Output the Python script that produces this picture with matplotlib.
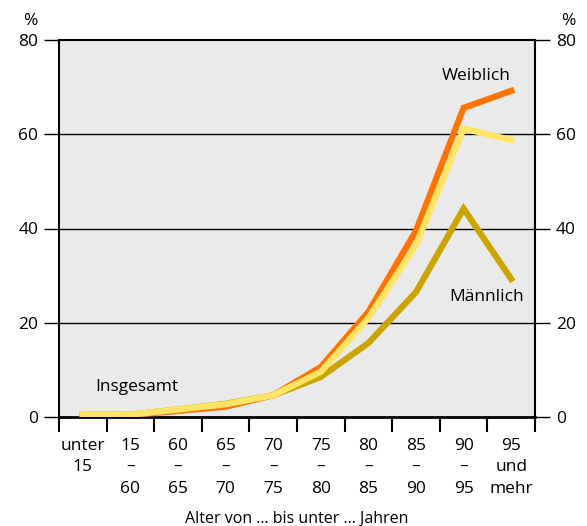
import numpy as np
import matplotlib
matplotlib.use("Agg")
import matplotlib.pyplot as plt

# age groups and shares in percent
age_groups = ["unter\n15", "15\n–\n60", "60\n–\n65", "65\n–\n70", "70\n–\n75",
              "75\n–\n80", "80\n–\n85", "85\n–\n90", "90\n–\n95", "95\nund\nmehr"]
insgesamt = [0.6, 0.5, 1.6, 2.7, 4.6, 9.6, 21.0, 36.5, 61.2, 58.8]
weiblich = [0.6, 0.4, 1.3, 2.2, 4.6, 10.6, 22.3, 39.5, 65.6, 69.2]
maennlich = [0.6, 0.5, 1.6, 2.8, 4.6, 8.5, 15.7, 26.5, 44.2, 29.3]
y_ticks = [0, 20, 40, 60, 80]

plt.rcParams['font.family'] = ['Open Sans', 'DejaVu Sans']
plt.rcParams['font.size'] = 12

fig = plt.figure(figsize=(5.87, 5.26), dpi=100)
ax = fig.add_axes([59/587, 109/526, 476/587, 377/526])
ax.set_facecolor('#EAEAEA')

x = np.arange(len(age_groups))
lw = 4.5
ax.plot(x, maennlich, color='#CCA500', lw=lw, solid_joinstyle='miter', zorder=3)
ax.plot(x, weiblich, color='#FF7300', lw=lw, solid_joinstyle='miter', zorder=4)
ax.plot(x, insgesamt, color='#FFE466', lw=lw, solid_joinstyle='miter', zorder=5)

ax.set_xlim(-0.5, len(age_groups) - 0.5)
ax.set_ylim(0, 80)

# horizontal rules at the tick values
for v in y_ticks[1:-1]:
    ax.axhline(v, color='black', lw=1.0, zorder=2)

ax.set_yticks(y_ticks)
ax.tick_params(axis='y', direction='out', length=11, width=1.0, pad=4,
               left=True, right=True, labelleft=True, labelright=True,
               labelsize=12.5)

ax.set_xticks(x)
ax.set_xticklabels(age_groups, linespacing=1.45)
ax.set_xticks(np.arange(-0.5, len(age_groups)), minor=True)
ax.tick_params(axis='x', which='major', length=0, pad=15, labelsize=12.5)
ax.tick_params(axis='x', which='minor', direction='out', length=11, width=1.5)

for side in ['left', 'right', 'top']:
    ax.spines[side].set_linewidth(1.5)
ax.spines['bottom'].set_linewidth(2)

ax.set_xlabel("Alter von ... bis unter ... Jahren", fontsize=11.5, labelpad=10)

fig.text(30/587, 1 - 21/526, "%", ha='center', va='center', fontsize=12.5)
fig.text(568/587, 1 - 21/526, "%", ha='center', va='center', fontsize=12.5)

ax.text(8.26, 72.4, "Weiblich", ha='center', va='center', fontsize=12.5)
ax.text(8.49, 25.4, "Männlich", ha='center', va='center', fontsize=12.5)
ax.text(1.14, 6.4, "Insgesamt", ha='center', va='center', fontsize=12.5)

fig.savefig("out.png", dpi=100)
